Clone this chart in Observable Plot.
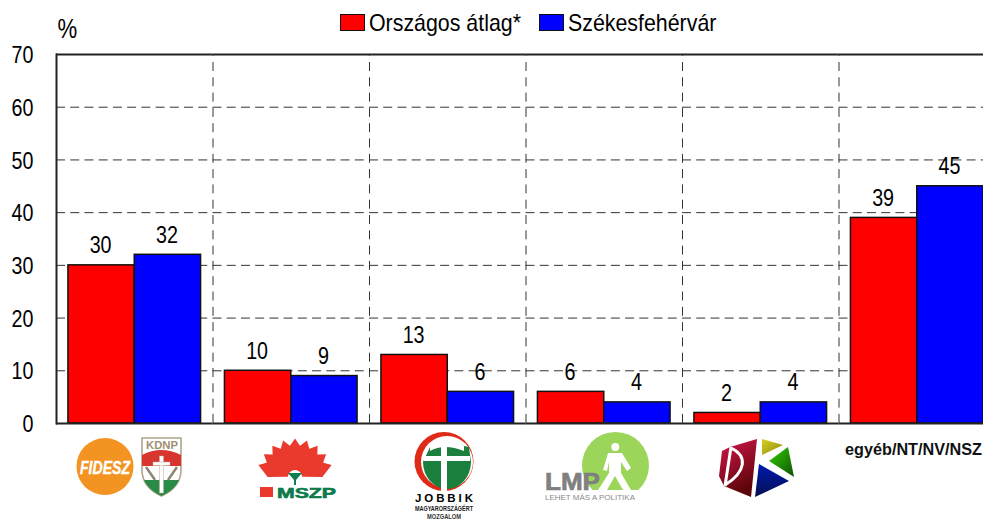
<!DOCTYPE html>
<html>
<head>
<meta charset="utf-8">
<script src="https://cdn.jsdelivr.net/npm/d3@7"></script>
<script src="https://cdn.jsdelivr.net/npm/@observablehq/plot@0.6"></script>
<style>
html,body{margin:0;padding:0;background:#fff;overflow:hidden}
#wrap{position:relative;width:983px;height:520px;font-family:"Liberation Sans",Arial,sans-serif}
.lg{position:absolute;top:8px;font-size:24px;line-height:30px;color:#000;white-space:nowrap;transform-origin:left center;transform:scaleX(.89)}
.sw{position:absolute;top:14px;width:23px;height:15px;border:1.5px solid #111}
</style>
</head>
<body>
<div id="wrap"></div>
<script>
const parties = ["Fidesz-KDNP", "MSZP", "Jobbik", "LMP", "DK", "egyéb/NT/NV/NSZ"];
const seriesNames = ["Országos átlag*", "Székesfehérvár"];
const orszagos = [30, 10, 13, 6, 2, 39];
const szekesfehervar = [32, 9, 6, 4, 4, 45];
const yTicks = [0, 10, 20, 30, 40, 50, 60, 70];
const gridTicks = [10, 20, 30, 40, 50, 60];
const seriesColors = ["#ff0000", "#0000ff"];

const rows = parties.flatMap((party, i) => [
  {party, series: seriesNames[0], value: orszagos[i]},
  {party, series: seriesNames[1], value: szekesfehervar[i]}
]);

const plot = Plot.plot({
  width: 983, height: 520,
  marginLeft: 56, marginRight: -12, marginTop: 54, marginBottom: 97,
  style: {fontFamily: '"Liberation Sans",Arial,sans-serif', fontSize: "24px", color: "#000", background: "#fff"},
  fx: {domain: parties, padding: 0, round: false, axis: null},
  x: {domain: seriesNames, paddingInner: 0, paddingOuter: 0.18, round: false, axis: null},
  y: {domain: [0, 70], axis: null},
  color: {domain: seriesNames, range: seriesColors},
  marks: [
    Plot.frame({anchor: "left", stroke: "#333", strokeWidth: 1, strokeDasharray: "8,7.3", strokeDashoffset: 7.3}),
    Plot.ruleY(gridTicks, {stroke: "#333", strokeWidth: 1, strokeDasharray: "9,5.227"}),
    Plot.axisY({anchor: "left", ticks: yTicks, tickSize: 0, tickPadding: 23, label: null, dy: 1}),
    Plot.barY(rows, {fx: "party", x: "series", y: "value", fill: "series", stroke: "#111", strokeWidth: 1.5}),
    Plot.ruleY([0, 70], {stroke: "#222", strokeWidth: 2}),
    Plot.frame({anchor: "left", stroke: "#222", strokeWidth: 2, facetAnchor: "left"}),
    Plot.text(rows, {fx: "party", x: "series", y: "value", text: "value", lineAnchor: "bottom", dy: -12, dx: -1, fill: "#000", fontSize: 24}),
    Plot.text(["%"], {frameAnchor: "top-left", dx: 1, dy: -36, lineAnchor: "top", textAnchor: "start", fontSize: 27, fill: "#000", facetAnchor: "left"})
  ]
});

const wrap = document.getElementById("wrap");
wrap.appendChild(plot);

/* narrow the type as in the reference */
plot.querySelectorAll("text").forEach(t => {
  const len = t.getComputedTextLength();
  t.setAttribute("textLength", (len * 0.82).toFixed(1));
  t.setAttribute("lengthAdjust", "spacingAndGlyphs");
});

/* party logos under the axis, real text inside */
const petalAngles = d3.range(-72, 73, 18);
const petals = petalAngles.map(a =>
  `<path transform="translate(295,477) rotate(${a})" d="M-2,-7 L-8.5,-26 L0,-38.5 L8.5,-26 L2,-7 Z" fill="#ea3a2d"/>`).join("");

const logos = `
<defs>
<linearGradient id="dkR" x1="0" y1="0" x2="0.4" y2="1"><stop offset="0" stop-color="#d8164c"/><stop offset="1" stop-color="#5a0508"/></linearGradient>
<linearGradient id="dkY" x1="0" y1="0" x2="1" y2="1"><stop offset="0" stop-color="#d8d020"/><stop offset="1" stop-color="#8a8a10"/></linearGradient>
<linearGradient id="dkG" x1="0" y1="0" x2="1" y2="1"><stop offset="0" stop-color="#30d000"/><stop offset="1" stop-color="#105008"/></linearGradient>
<linearGradient id="dkB" x1="0.5" y1="0" x2="0.5" y2="1"><stop offset="0" stop-color="#0018b0"/><stop offset="1" stop-color="#041050"/></linearGradient>
<clipPath id="shield"><path d="M142,438 H181 V470 Q181,487 161.5,496 Q142,487 142,470 Z"/></clipPath>
</defs>
<g font-family="'Liberation Sans',Arial,sans-serif" text-anchor="start">
  <circle cx="105" cy="466.5" r="28.5" fill="#f39322"/>
  <text x="80" y="474" font-size="19" font-weight="700" font-style="italic" fill="#fff" stroke="#fff" stroke-width=".4" textLength="50" lengthAdjust="spacingAndGlyphs">FIDESZ</text>

  <path d="M142,438 H181 V470 Q181,487 161.5,496 Q142,487 142,470 Z" fill="#fff" stroke="#b0a48e" stroke-width="1.6"/>
  <g clip-path="url(#shield)">
    <path d="M142,455 Q161,445 181,455 V466 H142 Z" fill="#d8352f"/>
    <rect x="142" y="480" width="40" height="18" fill="#2a8a48"/>
  </g>
  <text x="146" y="449" font-size="10" font-weight="700" fill="#a08e70" textLength="32" lengthAdjust="spacingAndGlyphs">KDNP</text>
  <rect x="159.5" y="456" width="4" height="37" fill="#fff" stroke="#b8ad9a" stroke-width=".5"/>
  <rect x="153" y="462" width="17" height="3.5" fill="#fff" stroke="#b8ad9a" stroke-width=".5"/>
  <path d="M146,467 L155,480 M177,467 L168,480" stroke="#8e8672" stroke-width="2.5" fill="none"/>

  ${petals}
  <path d="M288,473 H302 L296,480 V485 H294 V480 Z" fill="#0f7f52"/>
  <rect x="260" y="487" width="13" height="10" fill="#ea3a2d"/>
  <text x="277" y="497.5" font-size="14" font-weight="700" fill="#0d7a4c" stroke="#0d7a4c" stroke-width=".6" textLength="59" lengthAdjust="spacingAndGlyphs">MSZP</text>

  <circle cx="444" cy="461.5" r="29.5" fill="#df2a17"/>
  <circle cx="447" cy="462" r="26" fill="#fff"/>
  <path d="M423,462 A24,27 0 0 0 471,462 L469,447 L450,443 L430,447 Z" fill="#1b7f3d"/>
  <rect x="441" y="437" width="6" height="54" fill="#fff"/>
  <rect x="424" y="456" width="46" height="5" fill="#fff"/>
  <path d="M430,446 Q444,437 464,446 L464,451 Q444,443 430,451 Z" fill="#fff"/>
  <text x="415" y="502" font-size="11.5" font-weight="700" fill="#000" textLength="58" lengthAdjust="spacing">JOBBIK</text>
  <text x="415" y="511" font-size="6.5" font-weight="700" fill="#222" textLength="58" lengthAdjust="spacingAndGlyphs">MAGYARORSZÁGÉRT</text>
  <text x="427" y="519" font-size="6.5" font-weight="700" fill="#333" textLength="34" lengthAdjust="spacingAndGlyphs">MOZGALOM</text>

  <path d="M592.7,490 A33.5,33.5 0 1 1 638.3,490 Z" fill="#9bd55a"/>
  <circle cx="615.3" cy="447" r="4" fill="#fff"/>
  <path d="M608,453 H622 L631,468 L627,471 L621,462 V473 L631,490 H623 L615,476 L607,490 H598 L609,473 V462 L607,471 L603,470 Z" fill="#fff"/>
  <text x="545" y="489.5" font-size="24" font-weight="700" fill="#808080" stroke="#808080" stroke-width=".7" textLength="55" lengthAdjust="spacingAndGlyphs">LMP</text>
  <text x="545" y="500" font-size="8" fill="#8a8a8a" textLength="90" lengthAdjust="spacingAndGlyphs">LEHET MÁS A POLITIKA</text>

  <path d="M757,439 L730,447 L722,451 L719,476 L724,486 L751,497 Z" fill="url(#dkR)"/>
  <path d="M731,447 L725,486" stroke="#fff" stroke-width="3" fill="none"/>
  <path d="M731,448 C748,456 746,472 725,485" stroke="#fff" stroke-width="3" fill="none"/>
  <path d="M762,439 L783,445 L762,455 Z" fill="url(#dkY)"/>
  <path d="M769,461 L788,447 L794,477 Z" fill="url(#dkG)"/>
  <path d="M759,464 L789,481 L755,497 Z" fill="url(#dkB)"/>

  <text x="845" y="455" font-size="16.5" font-weight="700" fill="#111" textLength="137" lengthAdjust="spacingAndGlyphs">${parties[5]}</text>
</g>`;
const g = document.createElementNS("http://www.w3.org/2000/svg", "g");
g.innerHTML = logos;
plot.appendChild(g);

/* legend above the plot */
const legendItems = [[340, 369], [538.5, 568]];
seriesNames.forEach((name, i) => {
  const sw = document.createElement("div");
  sw.className = "sw";
  sw.style.left = legendItems[i][0] + "px";
  sw.style.background = seriesColors[i];
  wrap.appendChild(sw);
  const lab = document.createElement("div");
  lab.className = "lg";
  lab.style.left = legendItems[i][1] + "px";
  lab.textContent = name;
  wrap.appendChild(lab);
});
</script>
</body>
</html>
